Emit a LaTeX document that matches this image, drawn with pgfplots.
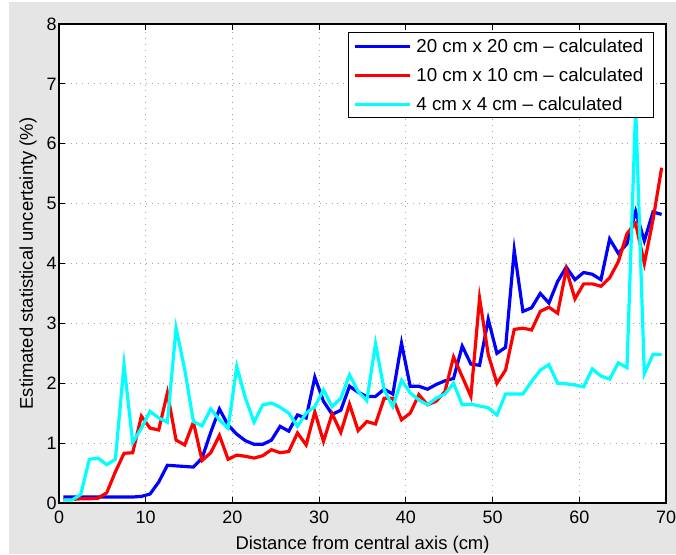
\documentclass[border=0pt]{standalone}
\usepackage{pgfplots}
\pgfplotsset{compat=1.18}
\usepackage{fontspec}
\setmainfont{Liberation Sans}

\definecolor{figbg}{RGB}{229,229,229}
\definecolor{matblue}{RGB}{0,0,255}
\definecolor{matred}{RGB}{255,0,0}
\definecolor{matcyan}{RGB}{0,255,255}

% statistical uncertainty versus off-axis distance, one table per field size
\pgfplotstableread{
x y
0.5 0.10
1.5 0.10
2.5 0.10
3.5 0.10
4.5 0.10
5.5 0.10
6.5 0.10
7.5 0.10
8.5 0.10
9.5 0.11
10.5 0.15
11.5 0.35
12.5 0.63
13.5 0.62
14.5 0.61
15.5 0.60
16.5 0.75
17.5 1.18
18.5 1.57
19.5 1.30
20.5 1.15
21.5 1.04
22.5 0.98
23.5 0.98
24.5 1.05
25.5 1.28
26.5 1.20
27.5 1.47
28.5 1.42
29.5 2.10
30.5 1.70
31.5 1.48
32.5 1.55
33.5 1.95
34.5 1.85
35.5 1.78
36.5 1.78
37.5 1.90
38.5 1.82
39.5 2.67
40.5 1.95
41.5 1.95
42.5 1.90
43.5 1.98
44.5 2.04
45.5 2.08
46.5 2.62
47.5 2.32
48.5 2.30
49.5 3.07
50.5 2.50
51.5 2.60
52.5 4.22
53.5 3.20
54.5 3.26
55.5 3.50
56.5 3.34
57.5 3.70
58.5 3.94
59.5 3.73
60.5 3.85
61.5 3.82
62.5 3.73
63.5 4.41
64.5 4.17
65.5 4.33
66.5 4.87
67.5 4.38
68.5 4.86
69.5 4.82
}\fieldtwenty

\pgfplotstableread{
x y
0.5 0.06
1.5 0.06
2.5 0.07
3.5 0.07
4.5 0.08
5.5 0.17
6.5 0.52
7.5 0.83
8.5 0.84
9.5 1.45
10.5 1.25
11.5 1.22
12.5 1.84
13.5 1.05
14.5 0.97
15.5 1.35
16.5 0.71
17.5 0.84
18.5 1.13
19.5 0.73
20.5 0.80
21.5 0.78
22.5 0.75
23.5 0.79
24.5 0.89
25.5 0.84
26.5 0.86
27.5 1.17
28.5 0.97
29.5 1.52
30.5 1.03
31.5 1.49
32.5 1.18
33.5 1.65
34.5 1.21
35.5 1.36
36.5 1.32
37.5 1.75
38.5 1.75
39.5 1.39
40.5 1.50
41.5 1.81
42.5 1.64
43.5 1.70
44.5 1.86
45.5 2.44
46.5 2.11
47.5 1.78
48.5 3.42
49.5 2.48
50.5 2.00
51.5 2.22
52.5 2.90
53.5 2.92
54.5 2.89
55.5 3.20
56.5 3.27
57.5 3.17
58.5 3.90
59.5 3.41
60.5 3.66
61.5 3.66
62.5 3.62
63.5 3.76
64.5 4.03
65.5 4.50
66.5 4.67
67.5 4.00
68.5 4.73
69.5 5.60
}\fieldten

\pgfplotstableread{
x y
0.5 0.05
1.5 0.05
2.5 0.14
3.5 0.73
4.5 0.75
5.5 0.64
6.5 0.73
7.5 2.31
8.5 1.01
9.5 1.25
10.5 1.53
11.5 1.42
12.5 1.35
13.5 2.92
14.5 2.23
15.5 1.36
16.5 1.29
17.5 1.57
18.5 1.39
19.5 1.25
20.5 2.28
21.5 1.75
22.5 1.35
23.5 1.64
24.5 1.67
25.5 1.60
26.5 1.50
27.5 1.28
28.5 1.50
29.5 1.61
30.5 1.89
31.5 1.61
32.5 1.75
33.5 2.14
34.5 1.86
35.5 1.71
36.5 2.66
37.5 1.89
38.5 1.61
39.5 2.05
40.5 1.84
41.5 1.72
42.5 1.64
43.5 1.75
44.5 1.82
45.5 2.00
46.5 1.64
47.5 1.65
48.5 1.62
49.5 1.59
50.5 1.47
51.5 1.82
52.5 1.82
53.5 1.82
54.5 2.03
55.5 2.22
56.5 2.31
57.5 2.00
58.5 1.99
59.5 1.97
60.5 1.94
61.5 2.24
62.5 2.12
63.5 2.07
64.5 2.34
65.5 2.26
66.5 6.60
67.5 2.16
68.5 2.48
69.5 2.48
}\fieldfour

\begin{document}
\begin{tikzpicture}
% page size and figure background
\useasboundingbox (-59bp,-52bp) rectangle (617bp,503bp);
\fill[white] (-59bp,-52bp) rectangle (617bp,503bp);
\fill[figbg] (-50bp,-51bp) rectangle (617bp,501bp);
\begin{axis}[
  at={(0,0)}, anchor=south west,
  scale only axis,
  width=607bp, height=479bp,
  xmin=0, xmax=70, ymin=0, ymax=8,
  xtick={0,10,...,70}, ytick={0,1,...,8},
  axis background/.style={fill=white},
  axis line style={line width=1.2bp, black},
  tick style={line width=0.8bp, black},
  tick align=inside,
  major tick length=6bp,
  xtick pos=both, ytick pos=both,
  grid=major,
  major grid style={line width=0.8bp, gray!70, dash pattern=on 0.8bp off 5bp},
  /pgf/number format/assume math mode=true,
  tick label style={font=\fontsize{18}{20}\selectfont},
  label style={font=\fontsize{18.5}{21}\selectfont},
  xticklabel style={yshift=-4bp},
  yticklabel style={xshift=1bp},
  xlabel={Distance from central axis (cm)},
  ylabel={Estimated statistical uncertainty (\%)},
  xlabel style={yshift=-6bp},
  ylabel style={yshift=3bp},
  legend style={
    at={(0.980,0.983)}, anchor=north east,
    draw=black, line width=1bp, fill=white,
    font=\fontsize{18.8}{21}\selectfont,
    row sep=12bp, inner xsep=5bp, inner ysep=5bp,
    cells={anchor=west},
    nodes={inner xsep=5bp, inner ysep=1bp},
  },
  legend image code/.code={\draw[#1] (0bp,0bp) -- (55bp,0bp);},
  every axis plot/.append style={line width=3.2bp},
]
\addplot[matblue, no markers] table {\fieldtwenty};
\addlegendentry{20 cm x 20 cm -- calculated}
\addplot[matred, no markers] table {\fieldten};
\addlegendentry{10 cm x 10 cm -- calculated}
\addplot[matcyan, no markers] table {\fieldfour};
\addlegendentry{4 cm x 4 cm -- calculated}
\end{axis}
\end{tikzpicture}
\end{document}
